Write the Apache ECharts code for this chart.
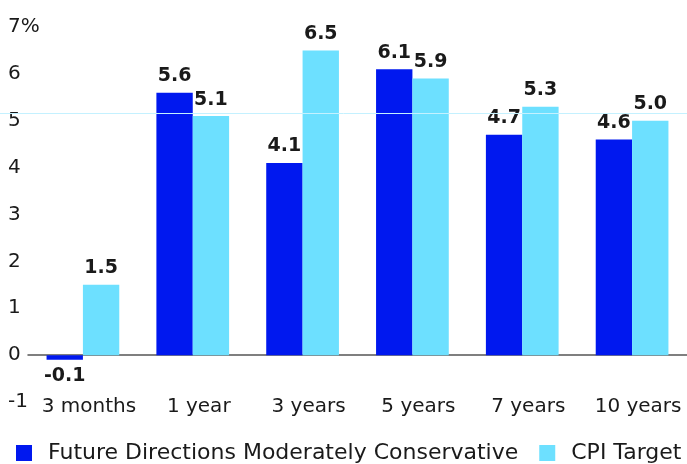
<!DOCTYPE html>
<html>
<head>
<meta charset="utf-8">
<script src="https://cdn.jsdelivr.net/npm/echarts@6/dist/echarts.min.js"></script>
<style>
  html, body { margin: 0; padding: 0; background: #fff; }
  #chart { width: 687px; height: 464px; }
</style>
</head>
<body>
<div id="chart"></div>
<script>
// Annualised returns by horizon
const categories = ['3 months', '1 year', '3 years', '5 years', '7 years', '10 years'];
const fundReturns = [-0.1, 5.6, 4.1, 6.1, 4.7, 4.6];
const cpiTarget = [1.5, 5.1, 6.5, 5.9, 5.3, 5.0];
const seriesNames = ['Future Directions Moderately Conservative', 'CPI Target'];
const yTicks = { min: -1, max: 7, step: 1 };
const referenceLevel = 5.15;

const FONT = 'DejaVu Sans';
const TEXT = '#1a1a1a';
const DARK = '#0018EF';
const LIGHT = '#6DE0FF';

const gridBox = { left: 28, right: -3, top: 27, bottom: 62 };

function withNegLabels(values) {
  return values.map(v => v < 0 ? { value: v, label: { position: 'bottom' } } : v);
}

const valueLabel = {
  show: true,
  position: 'top',
  distance: 7,
  fontFamily: FONT,
  fontWeight: 'bold',
  fontSize: 19,
  color: TEXT,
  formatter: p => p.value.toFixed(1)
};

const chart = echarts.init(document.getElementById('chart'), null, { renderer: 'canvas' });
chart.setOption({
  animation: false,
  textStyle: { fontFamily: FONT },
  grid: [
    Object.assign({}, gridBox),
    { left: 0, right: 0, top: gridBox.top, bottom: gridBox.bottom }
  ],
  legend: {
    data: seriesNames,
    left: 11,
    top: 437,
    icon: 'rect',
    itemWidth: 16,
    itemHeight: 16,
    itemGap: 21,
    textStyle: { fontFamily: FONT, fontSize: 22, color: TEXT, padding: [0, 0, 0, 11] }
  },
  xAxis: [
    {
      type: 'category',
      data: categories,
      gridIndex: 0,
      axisLine: { onZero: true, lineStyle: { color: '#555', width: 1.5 } },
      axisTick: { show: false },
      axisLabel: {
        interval: 0,
        fontFamily: FONT,
        fontSize: 20,
        color: TEXT,
        margin: -5,
        padding: [0, 0, 0, 12]
      }
    },
    { type: 'category', data: ['ref'], gridIndex: 1, show: false }
  ],
  yAxis: [
    {
      type: 'value',
      gridIndex: 0,
      min: yTicks.min,
      max: yTicks.max,
      interval: yTicks.step,
      axisLine: { show: false },
      axisTick: { show: false },
      splitLine: { show: false },
      axisLabel: {
        fontFamily: FONT,
        fontSize: 20,
        color: TEXT,
        align: 'left',
        margin: 20,
        formatter: v => v === yTicks.max ? v + '%' : String(v)
      }
    },
    { type: 'value', gridIndex: 1, min: yTicks.min, max: yTicks.max, show: false }
  ],
  series: [
    {
      name: 'reference',
      type: 'line',
      xAxisIndex: 1,
      yAxisIndex: 1,
      data: [],
      silent: true,
      z: 1,
      markLine: {
        symbol: 'none',
        silent: true,
        label: { show: false },
        lineStyle: { color: '#C4F1FF', width: 1, type: 'solid' },
        data: [{ yAxis: referenceLevel }]
      }
    },
    {
      name: seriesNames[0],
      type: 'bar',
      data: withNegLabels(fundReturns),
      itemStyle: { color: DARK },
      barGap: '0%',
      barCategoryGap: '33.8%',
      label: valueLabel,
      z: 3
    },
    {
      name: seriesNames[1],
      type: 'bar',
      data: withNegLabels(cpiTarget),
      itemStyle: { color: LIGHT },
      barGap: '0%',
      barCategoryGap: '33.8%',
      label: valueLabel,
      z: 3
    }
  ]
});
</script>
</body>
</html>
